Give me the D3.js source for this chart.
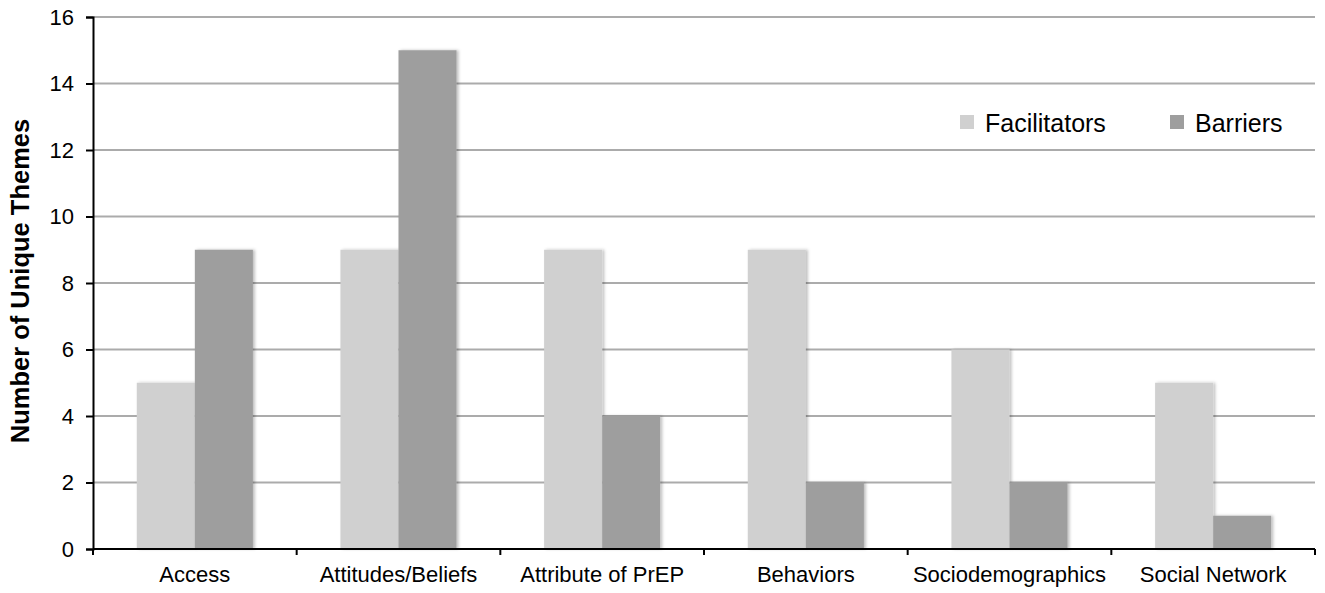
<!DOCTYPE html>
<html>
<head>
<meta charset="utf-8">
<script src="https://cdn.jsdelivr.net/npm/d3@7"></script>
<style>
  body { margin: 0; background: #fff; }
  svg { display: block; font-family: "Liberation Sans", Arial, sans-serif; }
</style>
</head>
<body>
<svg id="chart" width="1325" height="593"></svg>
<script>
// Number of unique themes per domain
const categories = ["Access", "Attitudes/Beliefs", "Attribute of PrEP", "Behaviors", "Sociodemographics", "Social Network"];
const facilitators = [5, 9, 9, 9, 6, 5];
const barriers = [9, 15, 4, 2, 2, 1];
const seriesNames = ["Facilitators", "Barriers"];
const yTicks = [0, 2, 4, 6, 8, 10, 12, 14, 16];

const colors = { Facilitators: "#d0d0d0", Barriers: "#9e9e9e" };
const fontFamily = '"Liberation Sans", Arial, sans-serif';

const svg = d3.select("#chart");
const margin = { top: 17, right: 10, bottom: 44, left: 93 };
const width = 1325 - margin.left - margin.right;
const height = 593 - margin.top - margin.bottom;

const defs = svg.append("defs");
const shadow = defs.append("filter").attr("id", "barShadow")
  .attr("x", "-10%").attr("y", "-10%").attr("width", "130%").attr("height", "120%");
shadow.append("feDropShadow")
  .attr("dx", 2).attr("dy", 0).attr("stdDeviation", 1.5)
  .attr("flood-color", "#000").attr("flood-opacity", 0.25);

const g = svg.append("g").attr("transform", `translate(${margin.left},${margin.top})`);

const x0 = d3.scaleBand().domain(categories).range([0, width]).paddingInner(0).paddingOuter(0);
const x1 = d3.scaleBand().domain(seriesNames).range([x0.bandwidth() * 0.215, x0.bandwidth() * 0.785]);
const y = d3.scaleLinear().domain([0, 16]).range([height, 0]);

// horizontal gridlines
g.append("g").selectAll("line").data(yTicks.filter(d => d > 0)).join("line")
  .attr("x1", 0).attr("x2", width)
  .attr("y1", d => y(d)).attr("y2", d => y(d))
  .attr("stroke", "#ababab").attr("stroke-width", 2);

// bars
const rows = categories.map((c, i) => ({ cat: c, values: [
  { key: "Facilitators", value: facilitators[i] },
  { key: "Barriers", value: barriers[i] }
]}));

const groups = g.append("g").selectAll("g").data(rows).join("g")
  .attr("transform", d => `translate(${x0(d.cat)},0)`);

groups.selectAll("rect").data(d => d.values).join("rect")
  .attr("x", d => x1(d.key))
  .attr("y", d => y(d.value))
  .attr("width", x1.bandwidth())
  .attr("height", d => y(0) - y(d.value))
  .attr("fill", d => colors[d.key])
  .attr("filter", "url(#barShadow)");

// y axis
const yAxis = g.append("g")
  .attr("font-family", fontFamily)
  .call(d3.axisLeft(y).tickValues(yTicks).tickSize(7).tickPadding(12).tickFormat(d3.format("d")));
yAxis.attr("font-family", fontFamily).attr("font-size", 22);
yAxis.select(".domain").attr("stroke", "#000").attr("stroke-width", 2);
yAxis.selectAll(".tick line").attr("stroke", "#000").attr("stroke-width", 2);
yAxis.selectAll(".tick text").attr("font-size", 22).attr("fill", "#000");

// x axis with ticks on category boundaries
const xAxisG = g.append("g").attr("transform", `translate(0,${height})`);
xAxisG.append("line").attr("x1", 0).attr("x2", width).attr("y1", 0).attr("y2", 0)
  .attr("stroke", "#000").attr("stroke-width", 2);
const bounds = categories.map(c => x0(c)).concat([width]);
xAxisG.selectAll("line.tk").data(bounds).join("line").attr("class", "tk")
  .attr("x1", d => d).attr("x2", d => d).attr("y1", 0).attr("y2", 6)
  .attr("stroke", "#000").attr("stroke-width", 2);
xAxisG.selectAll("text").data(categories).join("text")
  .attr("x", d => x0(d) + x0.bandwidth() / 2)
  .attr("y", 33)
  .attr("text-anchor", "middle")
  .attr("font-size", 22)
  .attr("fill", "#000")
  .text(d => d);

// y axis title
svg.append("text")
  .attr("transform", `translate(29,${margin.top + height / 2 - 2}) rotate(-90)`)
  .attr("text-anchor", "middle")
  .attr("font-size", 25.5)
  .attr("font-weight", "bold")
  .attr("fill", "#000")
  .text("Number of Unique Themes");

// legend
const legendX = [960, 1170];
const legend = svg.append("g").selectAll("g").data(seriesNames).join("g")
  .attr("transform", (d, i) => `translate(${legendX[i]},115)`);
legend.append("rect").attr("width", 14).attr("height", 14).attr("fill", d => colors[d]);
legend.append("text").attr("x", 25).attr("y", 17).attr("font-size", 25).attr("fill", "#000").text(d => d);
</script>
</body>
</html>
